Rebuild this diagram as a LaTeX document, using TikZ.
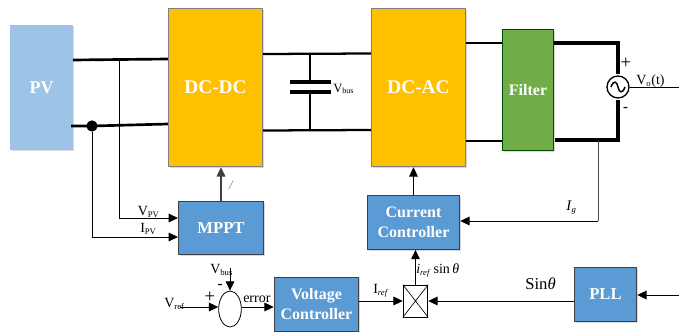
\documentclass[tikz,border=0pt]{standalone}
\usepackage{fontspec}
\setmainfont{Liberation Serif}
\usetikzlibrary{arrows.meta,shadows,calc,shapes.geometric}
\tikzset{
  blockbase/.style={draw=#1,line width=.6pt,minimum width=0pt,inner sep=0pt,font=\bfseries,text=white,align=center,
    drop shadow={shadow xshift=1pt,shadow yshift=-1pt,opacity=.3,fill=gray}},
  thick wire/.style={line width=2pt,black},
  mid wire/.style={line width=1.7pt,black},
  thin wire/.style={line width=.75pt,black},
  arr/.style={thin wire,-{Triangle[length=7pt,width=6.5pt]}},
  lab/.style={inner sep=0pt,font=\fontsize{10.5}{12}\selectfont}
}
\newcommand{\subt}[1]{\textsubscript{\fontsize{6.5}{7}\selectfont #1}}
\begin{document}
\begin{tikzpicture}[x=.75pt,y=-.75pt]
\useasboundingbox (0,0) rectangle (679,332);
\definecolor{pvblue}{RGB}{157,195,230}
\definecolor{dcyel}{RGB}{255,192,0}
\definecolor{filt}{RGB}{112,173,71}
\definecolor{ctrl}{RGB}{91,155,213}
% blocks
\node[blockbase=pvblue,fill=pvblue,minimum width=47pt,minimum height=93.5pt,font=\bfseries\fontsize{13.5}{14}\selectfont] (pv) at (41.5,87.5) {PV};
\node[blockbase=gray,fill=dcyel,minimum width=71pt,minimum height=119pt,font=\bfseries\fontsize{14.5}{15}\selectfont] (dcdc) at (215.5,87.5) {DC-DC};
\node[blockbase=gray,fill=dcyel,minimum width=71pt,minimum height=119pt,font=\bfseries\fontsize{14.5}{15}\selectfont] (dcac) at (418.5,87.5) {DC-AC};
\node[blockbase=black!70!green,fill=filt,minimum width=38.5pt,minimum height=91pt,font=\bfseries\fontsize{12}{13}\selectfont] (filter) at (528,90) {Filter};
\node[blockbase=black!75,fill=ctrl,minimum width=64pt,minimum height=40pt,font=\bfseries\fontsize{12.5}{13}\selectfont] (mppt) at (221,228) {MPPT};
\node[blockbase=black!75,fill=ctrl,minimum width=69.5pt,minimum height=40.5pt,font=\bfseries\fontsize{12}{15}\selectfont] (cc) at (413.5,222.5) {Current\\Controller};
\node[blockbase=black!75,fill=ctrl,minimum width=63.5pt,minimum height=40.5pt,font=\bfseries\fontsize{12}{15}\selectfont] (vc) at (316.5,304) {Voltage\\Controller};
\node[blockbase=black!75,fill=ctrl,minimum width=47pt,minimum height=41pt,font=\bfseries\fontsize{12.5}{13}\selectfont] (pll) at (605.5,294.5) {PLL};
% multiplier
\node[draw=black,fill=white,line width=.6pt,minimum width=18.5pt,minimum height=24pt,inner sep=0pt] (mul) at (415.5,301) {};
\draw[line width=.5pt] (mul.north west) -- (mul.south east) (mul.north east) -- (mul.south west);
% summing junction
\node[draw=black,fill=white,line width=.6pt,ellipse,minimum width=17pt,minimum height=27pt,inner sep=0pt] (sum) at (230,309) {};
% source
\node[draw=black,fill=white,line width=1pt,circle,minimum size=16.5pt,inner sep=0pt] (src) at (618,87) {};
\draw[line width=1.1pt] ($(src.center)+(-7,0)$) .. controls ($(src.center)+(-4,-8)$) and ($(src.center)+(-1,-5)$) .. (src.center) .. controls ($(src.center)+(1,5)$) and ($(src.center)+(4,8)$) .. ($(src.center)+(7,0)$);
% coordinates
\coordinate (pvT) at (73,60); \coordinate (ddTL) at (168,59);
\coordinate (pvB) at (71,126); \coordinate (ddBL) at (168,124);
\coordinate (tap) at (119,60); \coordinate (ddTR) at (263,54); \coordinate (acTL) at (371,53.5);
\coordinate (ddBR) at (263,130.5); \coordinate (acBL) at (371,130);
\coordinate (capT) at (310,53.5); \coordinate (capB) at (310,130.5);
\coordinate (plate1) at (310,82); \coordinate (plate2) at (310,92);
\coordinate (acTR) at (466,43); \coordinate (fTL) at (502,43);
\coordinate (acBR) at (466,141); \coordinate (fBL) at (502,141);
\coordinate (fTR) at (554,43); \coordinate (fBR) at (555,140);
\coordinate (srcTop) at (618,43); \coordinate (srcBot) at (618,140);
\coordinate (vEnd) at (679,87);
\coordinate (igTap) at (598,140.5); \coordinate (igCorner) at (598,221);
\coordinate (vpvC) at (119,218); \coordinate (ipvC) at (92,237);
\coordinate (vbusS) at (230,268); \coordinate (vrefS) at (180,307);
\coordinate (pllIn) at (679,295);
% dot
\node[fill=black,circle,minimum size=8.5pt,inner sep=0pt] (dot) at (92,126) {};
% power wires
\draw[thick wire] (pvT) -- (ddTL);
\draw[thick wire] (pvB) -- (dot.center) -- (ddBL);
\draw[mid wire] (ddTR) -- (acTL);
\draw[mid wire] (ddBR) -- (acBL);
\draw[mid wire] (capT) -- (plate1);
\draw[mid wire] (capB) -- (plate2);
\draw[line width=2.4pt] ($(plate1)+(-20.5,0)$) -- ($(plate1)+(20.5,0)$);
\draw[line width=2.4pt] ($(plate2)+(-20.5,0)$) -- ($(plate2)+(20.5,0)$);
\draw[thick wire] (acTR) -- (fTL);
\draw[thick wire] (acBR) -- (fBL);
\draw[line width=2.4pt,line join=miter] (fTR) -- (srcTop) -- ($(src.north)+(0,-1)$);
\draw[line width=2.4pt,line join=miter] (fBR) -- (srcBot) -- ($(src.south)+(0,1.5)$);
\draw[thin wire] (src.east) -- (vEnd);
% signal wires
\draw[arr] (tap) -- (vpvC) -- (vpvC -| mppt.west);
\draw[arr] (dot.south) -- (ipvC) -- (ipvC -| mppt.west);
\draw[thin wire,draw=black!75,line width=1pt,-{Triangle[length=7pt,width=6.5pt]}] (mppt.north) -- (mppt.north |- dcdc.south);
\draw[arr] (cc.north) -- (cc.north |- dcac.south);
\draw[thin wire,draw=black!70] (igTap) -- (igCorner);
\draw[arr] (igCorner) -- (igCorner -| cc.east);
\draw[arr] (mul.north) -- (mul.north |- cc.south);
\draw[arr] (pll.west |- mul.east) -- (mul.east);
\draw[arr] (vc.east |- mul.west) -- (mul.west);
\draw[arr] (pllIn) -- (pllIn -| pll.east);
\draw[arr] (vbusS) -- (sum.north);
\draw[arr] (vrefS) -- (vrefS -| sum.west);
\draw[arr] (vrefS -| sum.east) -- (vrefS -| vc.west);
% labels
\node[inner sep=0pt,anchor=base west,font=\fontsize{9.5}{10}\selectfont] (lVbus) at (333,92) {V\textsubscript{\fontsize{6}{6}\selectfont bus}};
\node[lab,anchor=base west] (lVo) at (636,84) {V\subt{o}(t)};
\node[inner sep=0pt,font=\fontsize{14}{14}\selectfont] (lP) at (626,63) {+};
\node[inner sep=0pt,font=\fontsize{11}{12}\selectfont\bfseries] (lM) at (625.5,109) {-};
\node[lab,anchor=base west] (lVpv) at (137.5,215) {V\subt{PV}};
\node[lab,anchor=base west] (lIpv) at (140,232) {I\subt{PV}};
\node[inner sep=0pt,text=gray,font=\fontsize{10}{10}\selectfont\itshape] (lSlash) at (231,185) {/};
\node[lab,anchor=base west] (lVb2) at (210,273) {V\subt{bus}};
\node[inner sep=0pt,font=\fontsize{11}{11}\selectfont\bfseries] (lM2) at (220,286) {-};
\node[inner sep=0pt,font=\fontsize{14}{14}\selectfont] (lP2) at (210,297) {+};
\node[lab,anchor=base west] (lVr) at (164,307) {V\subt{ref}};
\node[lab,anchor=base west] (lErr) at (243,302) {error};
\node[lab,anchor=base west] (lIr) at (373,293) {I\subt{\itshape ref}};
\node[lab,anchor=base west] (lIs) at (416,273) {\textit{i}\subt{\itshape ref} sin\,\textit{θ}};
\node[inner sep=0pt,anchor=base west,font=\fontsize{12.5}{13}\selectfont] (lSin) at (525,289) {Sin\textit{θ}};
\node[inner sep=0pt,anchor=base west,font=\fontsize{11}{12}\selectfont] (lIg) at (566,210) {\textit{I}\subt{\itshape g}};
\end{tikzpicture}
\end{document}
